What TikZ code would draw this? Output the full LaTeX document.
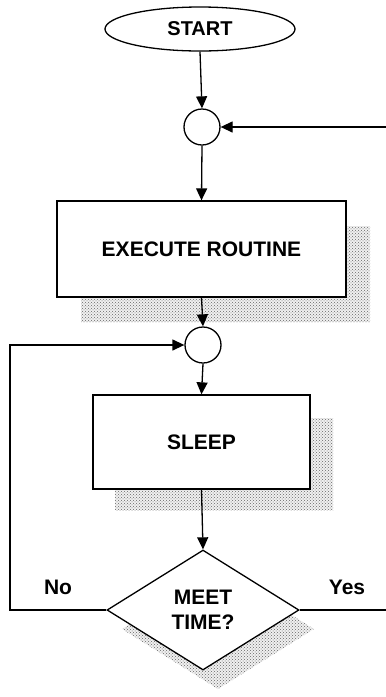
\documentclass[tikz,border=0pt]{standalone}
\usepackage{fontspec}
\setmainfont{Liberation Sans}
\usetikzlibrary{arrows.meta,shapes.geometric,patterns}
\begin{document}
\begin{tikzpicture}[x=1pt,y=-1pt,
  line/.style={line width=1.3pt,draw=black},
  arr/.style={line, -{Triangle[length=12pt,width=11pt]}},
  lbl/.style={font=\fontsize{21}{25}\selectfont\bfseries, align=center},
  procbox/.style={line, fill=white, rectangle, inner sep=0pt, font=\fontsize{21}{25}\selectfont\bfseries},
  joint/.style={line, fill=white, circle, minimum size=36pt, inner sep=0pt},
  shade/.style={pattern=crosshatch dots, pattern color=black!60}
]
\useasboundingbox (0,0) rectangle (386,697);
% shadows
\fill[gray!12] (81,226) rectangle (370,322);
\fill[shade] (81,226) rectangle (370,322);
\fill[gray!12] (115,418) rectangle (333,510);
\fill[shade] (115,418) rectangle (333,510);
\fill[gray!12] (122,629) -- (218,569) -- (314,629) -- (218,689) -- cycle;
\fill[shade] (122,629) -- (218,569) -- (314,629) -- (218,689) -- cycle;
% nodes
\node[line, ellipse, fill=white, minimum width=190pt, minimum height=44pt, inner sep=0pt, font=\fontsize{20}{25}\selectfont\bfseries] (start) at (200,29) {START};
\node[joint] (j1) at (202,127) {};
\node[procbox, minimum width=289pt, minimum height=96pt] (exec) at (201.5,249) {EXECUTE ROUTINE};
\node[joint] (j2) at (203,345) {};
\node[procbox, minimum width=217pt, minimum height=94pt] (sleep) at (201.5,442) {SLEEP};
\node[line, diamond, fill=white, minimum width=192pt, minimum height=120pt, inner sep=0pt, lbl] (meet) at (203,610) {MEET\\TIME?};
\coordinate (rin) at (386,127);
\coordinate (nocorner1) at (10,610);
\coordinate (nocorner2) at (10,345);
\coordinate (yesend) at (386,610);
% connectors
\draw[arr] (start.south) -- (j1.north);
\draw[arr] (rin) -- (j1.east);
\draw[arr] (j1.south) -- (exec.north);
\draw[arr] (exec.south) -- (j2.north);
\draw[arr] (j2.south) -- (sleep.north);
\draw[arr] (sleep.south) -- (meet.north);
\draw[arr] (meet.west) -- (nocorner1) -- (nocorner2) -- (j2.west);
\draw[line] (meet.east) -- (yesend);
% labels
\node[lbl] (no) at (58,587) {No};
\node[lbl] (yes) at (347,587) {Yes};
\end{tikzpicture}
\end{document}
